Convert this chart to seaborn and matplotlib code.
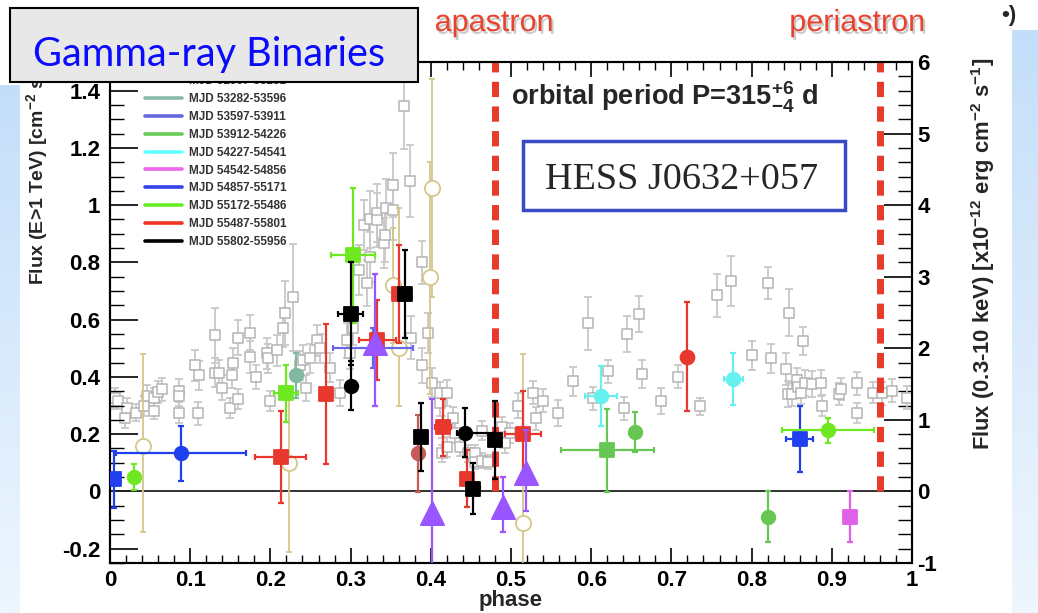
import numpy as np
import matplotlib
matplotlib.use("Agg")
import matplotlib.pyplot as plt
import matplotlib.patheffects as pe
from matplotlib.patches import Rectangle
from matplotlib.lines import Line2D
from matplotlib.ticker import MultipleLocator, FuncFormatter
from matplotlib.colors import LinearSegmentedColormap
import seaborn as sns

# ---------------- data ----------------
# Swift/XRT 0.3-10 keV flux (right axis, open grey squares)
xrt_phase = [0.000, 0.006, 0.010, 0.019, 0.021, 0.032, 0.042, 0.046, 0.055, 0.055,
             0.060, 0.065, 0.086, 0.086, 0.086, 0.106, 0.111, 0.110, 0.131, 0.131,
             0.136, 0.140, 0.150, 0.152, 0.153, 0.160, 0.160, 0.175, 0.175, 0.182,
             0.196, 0.197, 0.200, 0.208, 0.216, 0.218, 0.228, 0.237, 0.241, 0.245,
             0.249, 0.258, 0.262, 0.274, 0.287, 0.295, 0.299, 0.303, 0.310, 0.317,
             0.320, 0.324, 0.324, 0.333, 0.333, 0.342, 0.343, 0.344, 0.353, 0.353,
             0.366, 0.374, 0.375, 0.389, 0.389, 0.397, 0.402, 0.411, 0.411, 0.414,
             0.414, 0.420, 0.420, 0.428, 0.430, 0.436, 0.446, 0.455, 0.455, 0.464,
             0.464, 0.471, 0.489, 0.493, 0.499, 0.509, 0.527, 0.531, 0.540, 0.559,
             0.577, 0.596, 0.602, 0.621, 0.641, 0.645, 0.660, 0.663, 0.687, 0.708,
             0.736, 0.757, 0.774, 0.800, 0.820, 0.824, 0.843, 0.845, 0.847, 0.850,
             0.856, 0.858, 0.862, 0.864, 0.866, 0.875, 0.886, 0.888, 0.909, 0.911,
             0.931, 0.931, 0.951, 0.963, 0.975, 0.994]
xrt_flux = [1.27, 1.31, 1.27, 1.03, 1.17, 1.10, 1.19, 1.34, 1.31, 1.13,
            1.39, 1.43, 1.41, 1.34, 1.10, 1.76, 1.62, 1.09, 2.18, 1.66,
            1.66, 1.45, 1.17, 1.62, 1.80, 2.15, 1.29, 2.22, 1.88, 1.60,
            1.93, 1.86, 1.27, 1.97, 2.29, 2.49, 2.71, 1.76, 1.83, 1.45,
            1.86, 2.11, 2.00, 1.73, 1.37, 2.11, 1.93, 2.29, 3.09, 3.72,
            2.91, 3.80, 3.27, 3.89, 3.79, 3.47, 3.58, 3.96, 3.93, 4.28,
            5.38, 4.34, 2.15, 3.20, 1.76, 2.22, 1.52, 1.24, 1.37, 0.90,
            0.53, 1.38, 0.62, 1.03, 0.81, 0.62, 0.53, 0.53, 0.41, 0.43,
            0.85, 0.41, 0.90, 0.67, 0.81, 1.20, 1.38, 1.02, 1.27, 1.10,
            1.54, 2.35, 1.30, 1.68, 1.16, 2.20, 2.48, 1.64, 1.26, 1.60,
            1.19, 2.74, 2.94, 1.90, 2.91, 1.86, 1.71, 1.36, 2.50, 1.36,
            1.55, 1.46, 1.38, 2.10, 1.51, 1.50, 1.52, 1.20, 1.36, 1.43,
            1.51, 1.10, 1.38, 1.37, 1.41, 1.31]
xrt_err = [0.12, 0.13, 0.12, 0.15, 0.14, 0.12, 0.14, 0.15, 0.14, 0.12,
           0.15, 0.16, 0.16, 0.14, 0.15, 0.22, 0.20, 0.16, 0.38, 0.20,
           0.18, 0.17, 0.14, 0.18, 0.20, 0.25, 0.14, 0.25, 0.22, 0.17,
           0.22, 0.20, 0.14, 0.22, 0.27, 0.45, 0.75, 0.20, 0.22, 0.18,
           0.20, 0.22, 0.20, 0.20, 0.18, 0.25, 0.22, 0.25, 0.35, 0.35,
           0.32, 0.40, 0.35, 0.40, 0.38, 0.35, 0.38, 0.40, 0.42, 0.45,
           0.60, 0.50, 0.30, 0.30, 0.25, 0.28, 0.20, 0.18, 0.16, 0.15,
           0.12, 0.18, 0.14, 0.15, 0.14, 0.13, 0.12, 0.12, 0.10, 0.10,
           0.13, 0.10, 0.14, 0.13, 0.14, 0.18, 0.16, 0.16, 0.16, 0.18,
           0.20, 0.37, 0.16, 0.16, 0.16, 0.25, 0.25, 0.20, 0.18, 0.16,
           0.12, 0.30, 0.35, 0.20, 0.22, 0.20, 0.22, 0.18, 0.33, 0.16,
           0.18, 0.16, 0.16, 0.20, 0.18, 0.18, 0.18, 0.15, 0.15, 0.15,
           0.16, 0.14, 0.15, 0.16, 0.16, 0.16]

# TeV flux (left axis)
# MJD 55487-55801 (red)
red_sq_phase = [0.213, 0.269, 0.333, 0.360, 0.415, 0.445, 0.515]
red_sq_flux = [0.12, 0.34, 0.53, 0.69, 0.224, 0.045, 0.20]
red_sq_xerr = [0.032, 0.0, 0.023, 0.0, 0.010, 0.005, 0.022]
red_sq_yerr = [0.16, 0.245, 0.14, 0.17, 0.10, 0.10, 0.15]
red_ci_phase = [0.72]
red_ci_flux = [0.47]
red_ci_yerr = [0.19]
# MJD 55802-55956 (black)
blk_sq_phase = [0.300, 0.368, 0.388, 0.453, 0.480]
blk_sq_flux = [0.62, 0.69, 0.19, 0.01, 0.18]
blk_sq_xerr = [0.016, 0.0, 0.006, 0.008, 0.006]
blk_sq_yerr = [0.18, 0.155, 0.12, 0.09, 0.135]
blk_ci_phase = [0.300, 0.443]
blk_ci_flux = [0.37, 0.205]
blk_ci_xerr = [[0.0, 0.010], [0.0, 0.037]]
blk_ci_yerr = [0.085, 0.085]
# MJD 55172-55486 (light green)
lgr_sq_phase = [0.303, 0.219]
lgr_sq_flux = [0.825, 0.343]
lgr_sq_xerr = [0.027, 0.015]
lgr_sq_yerr = [0.235, 0.10]
lgr_ci_phase = [0.030, 0.895]
lgr_ci_flux = [0.05, 0.213]
lgr_ci_xerr = [0.006, 0.057]
lgr_ci_yerr = [0.045, 0.045]
# MJD 53912-54226 (green)
grn_sq_phase = [0.620]
grn_sq_flux = [0.143]
grn_sq_xerr = [0.058]
grn_sq_yerr = [0.145]
grn_ci_phase = [0.655, 0.820]
grn_ci_flux = [0.206, -0.088]
grn_ci_yerr = [0.07, 0.09]
# MJD 54227-54541 (cyan)
cyn_phase = [0.612, 0.777]
cyn_flux = [0.332, 0.392]
cyn_xerr = [0.020, 0.012]
cyn_yerr = [0.105, 0.09]
# MJD 54542-54856 (magenta)
mag_phase = [0.923]
mag_flux = [-0.088]
mag_yerr = [0.09]
# MJD 54857-55171 (blue)
blu_sq_phase = [0.005, 0.860]
blu_sq_flux = [0.042, 0.182]
blu_sq_xerr = [0.004, 0.017]
blu_sq_yerr = [0.10, 0.115]
blu_ci_phase = [0.089]
blu_ci_flux = [0.133]
blu_ci_xerr = [0.081]
blu_ci_yerr = [0.095]
# MJD 53597-53911 (violet)
vio_phase = [0.328]
vio_flux = [0.50]
vio_xerr = [0.05]
vio_yerr = [0.07]
# MJD 53282-53596 (teal)
tea_phase = [0.232]
tea_flux = [0.405]
tea_yerr = [0.08]
# MJD 52967-53281 (light red)
lrd_phase = [0.384]
lrd_flux = [0.133]
lrd_yerr = [0.135]
# triangles (purple)
tri_phase = [0.331, 0.402, 0.490, 0.519]
tri_flux = [0.517, -0.077, -0.056, 0.066]
tri_yerr = [[0.22, 0.30, 0.087, 0.136], [0.243, 0.40, 0.106, 0.147]]
# open circles (tan)
tan_phase = [0.041, 0.223, 0.353, 0.360, 0.399, 0.402, 0.515]
tan_flux = [0.16, 0.10, 0.72, 0.50, 0.75, 1.06, -0.11]
tan_yerr = [[0.30, 0.31, 0.20, 0.20, 0.41, 0.38, 0.15],
            [0.32, 0.25, 0.20, 0.49, 0.40, 0.38, 0.59]]

legend_labels = ["MJD 52967-53281", "MJD 53282-53596", "MJD 53597-53911",
                 "MJD 53912-54226", "MJD 54227-54541", "MJD 54542-54856",
                 "MJD 54857-55171", "MJD 55172-55486", "MJD 55487-55801",
                 "MJD 55802-55956"]
legend_colors = ["#e05a5a", "#88bba8", "#6666dd", "#66cc55", "#66ffff",
                 "#ee66ee", "#3344ee", "#66ee22", "#ee3322", "#000000"]

apastron_phase = 0.48
periastron_phase = 0.96

# ---------------- style ----------------
sns.set_theme(style="ticks")
plt.rcParams["font.family"] = ["Liberation Sans", "DejaVu Sans"]
plt.rcParams["font.weight"] = "bold"
plt.rcParams["axes.unicode_minus"] = False
plt.rcParams["mathtext.fontset"] = "custom"
plt.rcParams["mathtext.rm"] = "Liberation Sans:bold"
plt.rcParams["mathtext.it"] = "Liberation Sans:bold"
plt.rcParams["mathtext.bf"] = "Liberation Sans:bold"
plt.rcParams["mathtext.default"] = "rm"

W, H = 1038, 613
fig = plt.figure(figsize=(W / 100, H / 100), dpi=100)
fig.patch.set_facecolor("white")

# background gradient strips (slide decoration)
bg = fig.add_axes([0, 0, 1, 1], zorder=-10)
bg.set_xlim(0, W)
bg.set_ylim(H, 0)
bg.axis("off")
cmap = LinearSegmentedColormap.from_list("slide", ["#c4def9", "#eef6fe"])
grad = np.linspace(0, 1, 256)[:, None]
bg.imshow(grad, cmap=cmap, extent=[0, 20, H, 85], aspect="auto")
bg.imshow(grad, cmap=cmap, extent=[1012, W, H, 30], aspect="auto")

ax = fig.add_axes([110 / W, 1 - 563 / H, 802 / W, 501 / H])
ax2 = ax.twinx()
ax.set_zorder(2)
ax2.set_zorder(1)
ax.patch.set_visible(False)

ax.set_xlim(0, 1)
ax.set_ylim(-0.25, 1.5)
ax2.set_ylim(-1, 6)

# grey X-ray points
ax2.errorbar(xrt_phase, xrt_flux, yerr=xrt_err, fmt="none", ecolor="#c8c8c8",
             elinewidth=1.3, capsize=3, capthick=1.3, zorder=2)
sns.scatterplot(x=xrt_phase, y=xrt_flux, ax=ax2, marker="s", s=42, color="white",
                edgecolor="#b4b4b4", linewidth=1.1, zorder=3, legend=False)

# zero line and orbital markers
ax.axhline(0, color="#222222", lw=1.3, zorder=1)
for ph in (apastron_phase, periastron_phase):
    ax.plot([ph, ph], [0, 1.5], color="#e8392b", lw=5, dashes=(2.2, 1.35),
            solid_capstyle="butt", dash_capstyle="butt", zorder=1.5)


def draw(phase, flux, yerr, color, marker, size, xerr=None, face=None, z=5, lw=1.6):
    ax.errorbar(phase, flux, yerr=yerr, xerr=xerr, fmt="none", ecolor=color,
                elinewidth=lw, capsize=2.5, capthick=lw, zorder=z)
    sns.scatterplot(x=phase, y=flux, ax=ax, marker=marker, s=size,
                    color=face if face else color, edgecolor=color,
                    linewidth=1.3, zorder=z + 0.1, legend=False)


draw(tan_phase, tan_flux, tan_yerr, "#d4c68c", "o", 120, face="white", z=3, lw=1.3)
draw(tea_phase, tea_flux, tea_yerr, "#80b8a0", "o", 95, z=4)
draw(vio_phase, vio_flux, vio_yerr, "#6666e6", "o", 30, xerr=vio_xerr, z=4)
draw(lrd_phase, lrd_flux, lrd_yerr, "#c85a55", "o", 95, z=4)
draw(grn_sq_phase, grn_sq_flux, grn_sq_yerr, "#66c853", "s", 100, xerr=grn_sq_xerr, z=5)
draw(grn_ci_phase, grn_ci_flux, grn_ci_yerr, "#66c853", "o", 95, z=5)
draw(cyn_phase, cyn_flux, cyn_yerr, "#66f0f0", "o", 95, xerr=cyn_xerr, z=5)
draw(mag_phase, mag_flux, mag_yerr, "#e060e8", "s", 100, z=5)
draw(blu_sq_phase, blu_sq_flux, blu_sq_yerr, "#2040f0", "s", 100, xerr=blu_sq_xerr, z=5)
draw(blu_ci_phase, blu_ci_flux, blu_ci_yerr, "#2040f0", "o", 95, xerr=blu_ci_xerr, z=5)
draw(lgr_sq_phase, lgr_sq_flux, lgr_sq_yerr, "#6ee821", "s", 100, xerr=lgr_sq_xerr, z=6)
draw(lgr_ci_phase, lgr_ci_flux, lgr_ci_yerr, "#6ee821", "o", 95, xerr=lgr_ci_xerr, z=6)
draw(red_sq_phase, red_sq_flux, red_sq_yerr, "#e8372c", "s", 100, xerr=red_sq_xerr, z=7)
draw(red_ci_phase, red_ci_flux, red_ci_yerr, "#e8372c", "o", 100, z=7)
draw(blk_sq_phase, blk_sq_flux, blk_sq_yerr, "#000000", "s", 100, xerr=blk_sq_xerr, z=8)
draw(blk_ci_phase, blk_ci_flux, blk_ci_yerr, "#000000", "o", 95, xerr=blk_ci_xerr, z=8)
draw(tri_phase, tri_flux, tri_yerr, "#9955ff", "^", 280, z=9)

# ticks
fmt = FuncFormatter(lambda v, p: f"{round(v, 6) + 0.0:g}")
ax.xaxis.set_major_locator(MultipleLocator(0.1))
ax.xaxis.set_minor_locator(MultipleLocator(0.02))
ax.yaxis.set_major_locator(MultipleLocator(0.2))
ax.yaxis.set_minor_locator(MultipleLocator(0.05))
ax2.yaxis.set_major_locator(MultipleLocator(1))
ax2.yaxis.set_minor_locator(MultipleLocator(0.2))
ax.xaxis.set_major_formatter(fmt)
ax.yaxis.set_major_formatter(fmt)
ax2.yaxis.set_major_formatter(fmt)

ax.tick_params(axis="x", which="both", direction="in", top=True, bottom=True,
               labelsize=16, pad=5, color="black", labelcolor="black")
ax.tick_params(axis="x", which="major", length=11, width=1.2)
ax.tick_params(axis="x", which="minor", length=6, width=1.0)
ax.tick_params(axis="y", which="both", direction="in", left=True, right=False,
               labelsize=16, pad=7, color="black", labelcolor="black")
ax.tick_params(axis="y", which="major", length=20, width=1.2)
ax.tick_params(axis="y", which="minor", length=10, width=1.0)
ax2.tick_params(axis="y", which="both", direction="in", right=True, left=False,
                labelsize=16, pad=4, color="black", labelcolor="black")
ax2.tick_params(axis="y", which="major", length=20, width=1.2)
ax2.tick_params(axis="y", which="minor", length=10, width=1.0)

for a in (ax, ax2):
    a.set_xlabel("")
    a.set_ylabel("")
    for s in a.spines.values():
        s.set_visible(True)
        s.set_color("black")
        s.set_linewidth(1.5)

# legend
handles = [Line2D([], [], color=c, lw=2.6) for c in legend_colors]
leg = ax.legend(handles, legend_labels, loc="upper left", bbox_to_anchor=(0.0436, 0.974),
                frameon=False, fontsize=8.5, handlelength=3.1, handletextpad=0.6,
                labelspacing=0.5, borderpad=0, borderaxespad=0)
for t in leg.get_texts():
    t.set_color("#333333")

# axis labels
fig.text(37 / W, 1 - 285 / H, r"Flux (E>1 TeV) [cm$^{-2}$ s$^{-1}$]", rotation=90,
         ha="center", va="bottom", fontsize=14)
fig.text(983 / W, 1 - 58 / H, r"Flux (0.3-10 keV) [x10$^{-12}$ erg cm$^{-2}$ s$^{-1}$]",
         rotation=90, ha="center", va="top", fontsize=15.8)
fig.text(511 / W, 1 - 606 / H, "phase", ha="center", va="baseline", fontsize=16)

# annotations
shadow = [pe.withSimplePatchShadow(offset=(1.5, -2), shadow_rgbFace="#999999", alpha=0.5)]
fig.text(494 / W, 1 - 31 / H, "apastron", color="#e8432f", fontsize=22,
         fontweight="normal", ha="center", va="baseline", path_effects=shadow)
fig.text(857 / W, 1 - 31 / H, "periastron", color="#e8432f", fontsize=22,
         fontweight="normal", ha="center", va="baseline", path_effects=shadow)
fig.text(511 / W, 1 - 97 / H, r"orbital period P=$315^{+6}_{-4}$ d", ha="left",
         va="center", fontsize=19.5, zorder=12)

fig.add_artist(Rectangle((523 / W, 1 - 210 / H), 322 / W, 69 / H, transform=fig.transFigure,
                         facecolor="white", edgecolor="#3a4ac4", lw=2.5, zorder=10))
fig.text(682 / W, 1 - 180 / H, "HESS J0632+057", family="Liberation Serif",
         fontweight="normal", fontsize=27.5, ha="center", va="center", zorder=11)

fig.add_artist(Rectangle((10 / W, 1 - 82 / H), 408 / W, 74 / H, transform=fig.transFigure,
                         facecolor="#e8e8e8", edgecolor="black", lw=1.5, zorder=10))
fig.text(33 / W, 1 - 66 / H, "Gamma-ray Binaries", family=["Lato", "DejaVu Sans"],
         fontweight="normal", fontsize=28.5, color="#0a0aff", ha="left", va="baseline", zorder=11)

fig.text(1009 / W, 1 - 15 / H, "\u2022)", fontsize=16, ha="center", va="center")

fig.savefig("out.png", dpi=100)
